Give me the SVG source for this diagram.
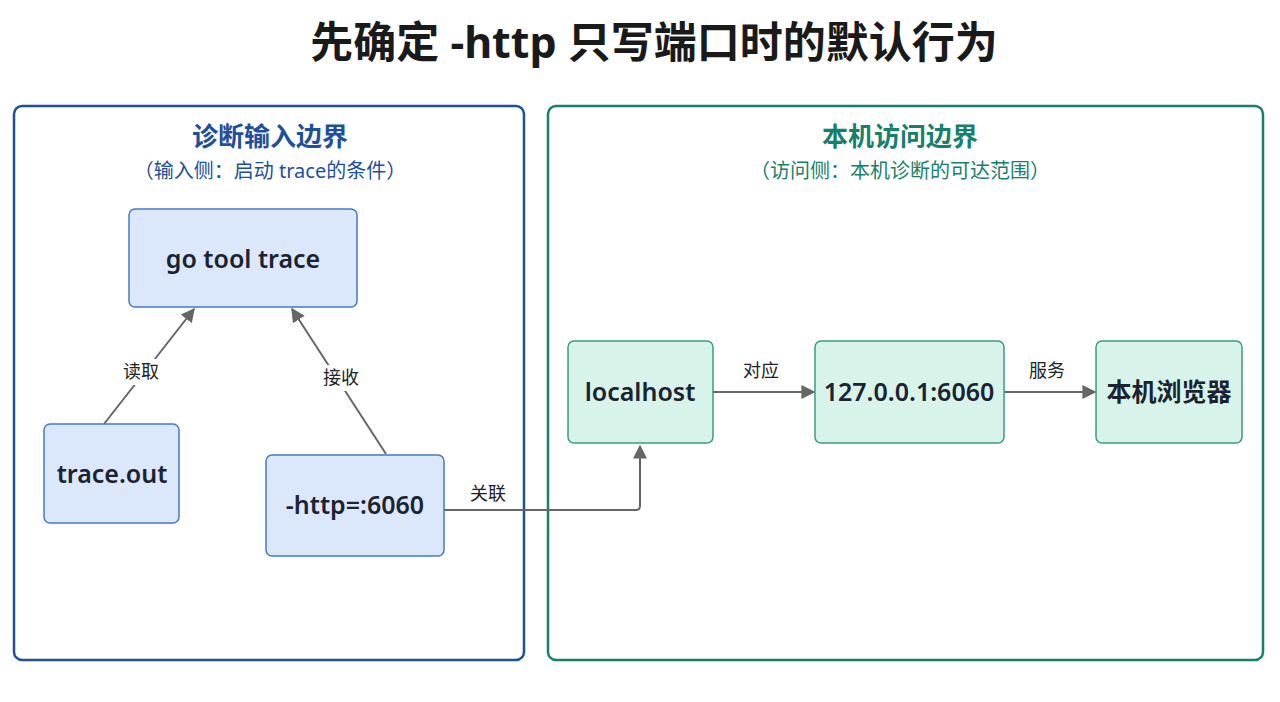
<svg xmlns="http://www.w3.org/2000/svg" width="1280" height="702" viewBox="0 0 1280 702">
<style>
text{font-family:"Noto Sans","Noto Sans CJK SC",sans-serif}
.b{fill:#dbe8fb;stroke:#4a78c4;stroke-width:1.5}
.g{fill:#d8f3ea;stroke:#3a9c84;stroke-width:1.5}
.nt{font-size:25px;font-weight:600;fill:#1b2333;text-anchor:middle}
.lb{font-size:18px;fill:#222;text-anchor:middle}
.c{stroke:#666;stroke-width:2;fill:none;marker-end:url(#a)}
</style>
<defs><marker id="a" viewBox="0 0 10 10" refX="9" refY="5" markerWidth="7" markerHeight="7" orient="auto"><path d="M0,0L10,5L0,10z" fill="#666"/></marker></defs>
<rect width="1280" height="702" fill="#fff"/>
<text x="654" y="58" font-size="43" font-weight="700" fill="#1a1a1a" text-anchor="middle">先确定 -http 只写端口时的默认行为</text>
<g id="left-group">
<rect x="14" y="106" width="510" height="554" rx="8" fill="#fff" stroke="#1e4f9c" stroke-width="2.5"/>
<text x="270" y="146" font-size="26" font-weight="700" fill="#1e4f9c" text-anchor="middle">诊断输入边界</text>
<text x="270" y="178" font-size="20" fill="#1e4f9c" text-anchor="middle">（输入侧：启动 trace的条件）</text>
</g>
<g id="right-group">
<rect x="548" y="106" width="715" height="554" rx="8" fill="#fff" stroke="#17806a" stroke-width="2.5"/>
<text x="900" y="146" font-size="26" font-weight="700" fill="#17806a" text-anchor="middle">本机访问边界</text>
<text x="900" y="178" font-size="20" fill="#17806a" text-anchor="middle">（访问侧：本机诊断的可达范围）</text>
</g>
<g id="connectors">
<path class="c" d="M104,424L194,309"/>
<path class="c" d="M386,454L292,309"/>
<path class="c" d="M444,510L636,510Q640,510 640,506L640,446"/>
<path class="c" d="M713,392L814,392"/>
<path class="c" d="M1004,392L1095,392"/>
<rect x="115" y="359" width="50" height="26" fill="#fff"/><text class="lb" x="141" y="378">读取</text>
<rect x="316" y="365" width="50" height="26" fill="#fff"/><text class="lb" x="341" y="384">接收</text>
<text class="lb" x="488" y="500">关联</text>
<text class="lb" x="761" y="377">对应</text>
<text class="lb" x="1047" y="377">服务</text>
</g>
<g id="n-trace"><rect class="b" x="129" y="209" width="228" height="98" rx="6"/><text class="nt" x="243" y="268">go tool trace</text></g>
<g id="n-out"><rect class="b" x="44" y="424" width="135" height="99" rx="6"/><text class="nt" x="112" y="483">trace.out</text></g>
<g id="n-http"><rect class="b" x="266" y="455" width="178" height="101" rx="6"/><text class="nt" x="355" y="514">-http=:6060</text></g>
<g id="n-local"><rect class="g" x="568" y="341" width="145" height="102" rx="6"/><text class="nt" x="640" y="401">localhost</text></g>
<g id="n-ip"><rect class="g" x="815" y="341" width="189" height="102" rx="6"/><text class="nt" x="909" y="401">127.0.0.1:6060</text></g>
<g id="n-browser"><rect class="g" x="1096" y="341" width="146" height="102" rx="6"/><text class="nt" x="1169" y="401" font-size="22">本机浏览器</text></g>
</svg>
